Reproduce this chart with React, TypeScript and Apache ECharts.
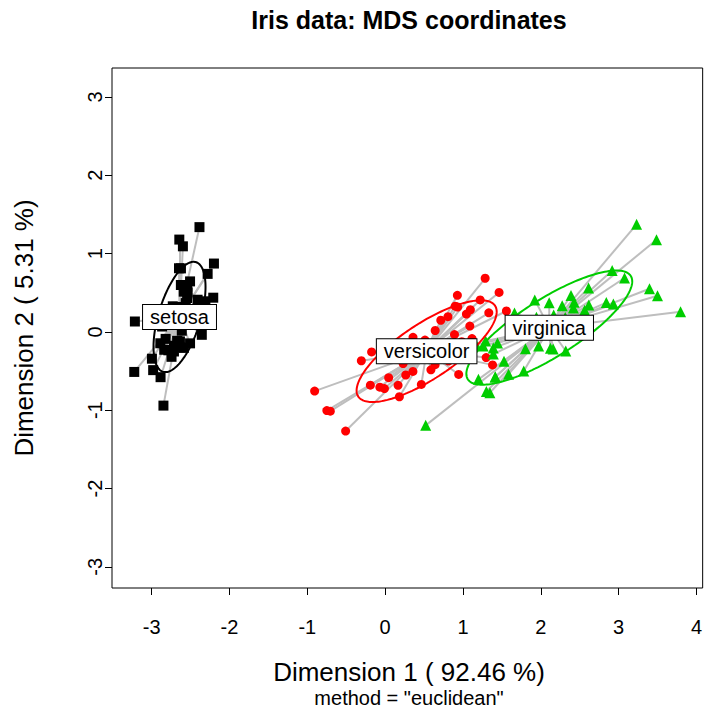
import React, { useEffect, useRef } from "react";
import * as echarts from "echarts";

// MDS (classical, euclidean) coordinates of the iris data: [Dim1, Dim2]
const setosa: [number, number][] = [
  [-2.684, 0.319], [-2.714, -0.177], [-2.889, -0.145], [-2.745, -0.318], [-2.729, 0.327],
  [-2.281, 0.741], [-2.821, -0.089], [-2.626, 0.163], [-2.886, -0.578], [-2.673, -0.114],
  [-2.507, 0.645], [-2.613, 0.015], [-2.786, -0.235], [-3.224, -0.511], [-2.645, 1.179],
  [-2.386, 1.338], [-2.624, 0.811], [-2.648, 0.312], [-2.2, 0.873], [-2.588, 0.514],
  [-2.31, 0.391], [-2.544, 0.433], [-3.216, 0.133], [-2.303, 0.099], [-2.356, -0.037],
  [-2.507, -0.146], [-2.469, 0.131], [-2.562, 0.368], [-2.64, 0.312], [-2.632, -0.197],
  [-2.587, -0.204], [-2.41, 0.411], [-2.649, 0.813], [-2.599, 1.093], [-2.637, -0.121],
  [-2.866, 0.069], [-2.625, 0.599], [-2.801, 0.269], [-2.981, -0.488], [-2.59, 0.229],
  [-2.77, 0.264], [-2.849, -0.941], [-2.997, -0.342], [-2.406, 0.189], [-2.209, 0.437],
  [-2.714, -0.25], [-2.538, 0.504], [-2.839, -0.228], [-2.543, 0.579], [-2.703, 0.108],
];
const versicolor: [number, number][] = [
  [1.285, 0.685], [0.932, 0.318], [1.464, 0.504], [0.183, -0.828], [1.088, 0.075],
  [0.642, -0.418], [1.095, 0.283], [-0.749, -1.005], [1.044, 0.228], [-0.009, -0.723],
  [-0.508, -1.266], [0.512, -0.104], [0.265, -0.55], [0.985, -0.125], [-0.174, -0.255],
  [0.928, 0.467], [0.66, -0.353], [0.236, -0.334], [0.945, -0.543], [0.045, -0.584],
  [1.116, -0.085], [0.358, -0.069], [1.298, -0.328], [0.922, -0.183], [0.715, 0.149],
  [0.9, 0.329], [1.332, 0.244], [1.558, 0.267], [0.813, -0.163], [-0.306, -0.368],
  [-0.068, -0.705], [-0.19, -0.68], [0.136, -0.314], [1.38, -0.421], [0.588, -0.484],
  [0.807, 0.194], [1.221, 0.408], [0.815, -0.372], [0.246, -0.269], [0.166, -0.682],
  [0.465, -0.671], [0.891, -0.034], [0.231, -0.404], [-0.705, -1.012], [0.357, -0.505],
  [0.332, -0.213], [0.376, -0.293], [0.643, 0.018], [-0.906, -0.756], [0.299, -0.349],
];
const virginica: [number, number][] = [
  [2.531, -0.01], [1.415, -0.575], [2.617, 0.344], [1.972, -0.18], [2.35, -0.04],
  [3.397, 0.551], [0.521, -1.193], [2.933, 0.356], [2.321, -0.244], [2.917, 0.783],
  [1.662, 0.242], [1.803, -0.216], [2.166, 0.216], [1.346, -0.777], [1.586, -0.54],
  [1.904, 0.119], [1.95, 0.042], [3.487, 1.176], [3.796, 0.257], [1.301, -0.761],
  [2.428, 0.378], [1.199, -0.606], [3.5, 0.461], [1.389, -0.204], [2.275, 0.335],
  [2.614, 0.561], [1.259, -0.18], [1.291, -0.117], [2.124, -0.21], [2.388, 0.465],
  [2.842, 0.375], [3.231, 1.374], [2.159, -0.217], [1.444, -0.143], [1.781, -0.5],
  [3.076, 0.688], [2.144, 0.14], [1.905, 0.049], [1.169, -0.165], [2.108, 0.372],
  [2.314, 0.184], [1.922, 0.409], [1.415, -0.575], [2.563, 0.278], [2.419, 0.305],
  [1.944, 0.188], [1.527, -0.375], [1.764, 0.079], [1.901, 0.117], [1.39, -0.283],
];

const groupNames = ["setosa", "versicolor", "virginica"];
const groupColors = ["#000000", "#FF0000", "#00CD00"];
const groupSymbols = ["rect", "circle", "triangle"];
const groupSizes = [10, 9, 11];
const xTicks = [-3, -2, -1, 0, 1, 2, 3, 4];
const yTicks = [-3, -2, -1, 0, 1, 2, 3];
const ellipseLevel = 0.68;

const FONT = "'Liberation Sans', Arial, Helvetica, sans-serif";

function centroid(pts: [number, number][]): [number, number] {
  let sx = 0, sy = 0;
  pts.forEach(([x, y]) => { sx += x; sy += y; });
  return [sx / pts.length, sy / pts.length];
}

function ellipse(pts: [number, number][], level: number): [number, number][] {
  const [cx, cy] = centroid(pts);
  const n = pts.length;
  let sxx = 0, syy = 0, sxy = 0;
  pts.forEach(([x, y]) => {
    sxx += (x - cx) * (x - cx);
    syy += (y - cy) * (y - cy);
    sxy += (x - cx) * (y - cy);
  });
  sxx /= n - 1; syy /= n - 1; sxy /= n - 1;
  const l11 = Math.sqrt(sxx);
  const l21 = sxy / l11;
  const l22 = Math.sqrt(syy - l21 * l21);
  const r = Math.sqrt(-2 * Math.log(1 - level));
  const out: [number, number][] = [];
  const N = 180;
  for (let i = 0; i <= N; i++) {
    const t = (2 * Math.PI * i) / N;
    const u = Math.cos(t), v = Math.sin(t);
    out.push([cx + r * l11 * u, cy + r * (l21 * u + l22 * v)]);
  }
  return out;
}

export default function App() {
  const ref = useRef<HTMLDivElement>(null);
  useEffect(() => {
    if (!ref.current) return;
    const chart = echarts.init(ref.current, undefined, { renderer: "svg" });
    const groups = [setosa, versicolor, virginica];
    const centers = groups.map(centroid);

    const segData: any[] = [];
    groups.forEach((g, gi) => {
      g.forEach((p) => segData.push({ coords: [p, centers[gi]] }));
    });

    const series: any[] = [
      {
        type: "lines",
        coordinateSystem: "cartesian2d",
        data: segData,
        lineStyle: { color: "#BEBEBE", width: 2, opacity: 1 },
        z: 1,
        silent: true,
      },
    ];
    groups.forEach((g, gi) => {
      series.push({
        type: "scatter",
        name: groupNames[gi],
        data: g,
        symbol: groupSymbols[gi],
        symbolSize: groupSizes[gi],
        itemStyle: { color: groupColors[gi], opacity: 1 },
        z: 2,
      });
    });
    groups.forEach((g, gi) => {
      series.push({
        type: "line",
        data: ellipse(g, ellipseLevel),
        showSymbol: false,
        symbol: "none",
        smooth: false,
        lineStyle: { color: groupColors[gi], width: 2 },
        z: 3,
        silent: true,
      });
    });
    series.push({
      type: "scatter",
      data: centers.map((c, i) => ({ value: c, name: groupNames[i] })),
      symbolSize: 1,
      itemStyle: { color: "#000", opacity: 1 },
      z: 5,
      silent: true,
      label: {
        show: true,
        position: "inside",
        formatter: (p: any) => p.name,
        fontFamily: FONT,
        fontSize: 20,
        color: "#000",
        opacity: 1,
        textBorderWidth: 0,
        backgroundColor: "#ffffff",
        borderColor: "#000",
        borderWidth: 1,
        padding: [2, 7, 2, 7],
      },
    });

    chart.setOption({
      animation: false,
      backgroundColor: "#fff",
      grid: {
        left: 112,
        top: 68,
        width: 594,
        height: 520,
        show: true,
        borderColor: "#000",
        borderWidth: 1,
        backgroundColor: "transparent",
      },
      xAxis: {
        type: "value",
        min: -3.51,
        max: 4.08,
        axisLine: { show: false, onZero: false },
        splitLine: { show: false },
        axisTick: {
          show: true,
          customValues: xTicks,
          length: 7,
          inside: false,
          lineStyle: { color: "#000", width: 1 },
        },
        axisLabel: {
          customValues: xTicks,
          fontSize: 20,
          fontFamily: FONT,
          color: "#000",
          margin: 29,
        },
      },
      yAxis: {
        type: "value",
        min: -3.27,
        max: 3.37,
        axisLine: { show: false, onZero: false },
        splitLine: { show: false },
        axisTick: {
          show: true,
          customValues: yTicks,
          length: 7,
          inside: false,
          lineStyle: { color: "#000", width: 1 },
        },
        axisLabel: {
          customValues: yTicks,
          fontSize: 20,
          fontFamily: FONT,
          color: "#000",
          rotate: 90,
          margin: 7,
        },
      },
      graphic: [
        {
          type: "text",
          x: 409,
          y: 20,
          style: {
            text: "Iris data: MDS coordinates",
            font: `bold 25px ${FONT}`,
            fill: "#000",
            textAlign: "center",
            textVerticalAlign: "middle",
          },
        },
        {
          type: "text",
          x: 409,
          y: 672,
          style: {
            text: "Dimension 1 ( 92.46 %)",
            font: `26px ${FONT}`,
            fill: "#000",
            textAlign: "center",
            textVerticalAlign: "middle",
          },
        },
        {
          type: "text",
          x: 409,
          y: 698,
          style: {
            text: 'method = "euclidean"',
            font: `20px ${FONT}`,
            fill: "#000",
            textAlign: "center",
            textVerticalAlign: "middle",
          },
        },
        {
          type: "text",
          x: 24,
          y: 328,
          rotation: Math.PI / 2,
          style: {
            text: "Dimension 2 ( 5.31 %)",
            font: `26px ${FONT}`,
            fill: "#000",
            textAlign: "center",
            textVerticalAlign: "middle",
          },
        },
      ],
      series,
    });
    return () => chart.dispose();
  }, []);
  return (
    <div
      ref={ref}
      style={{ position: "absolute", left: 0, top: 0, width: 705, height: 715 }}
    />
  );
}
